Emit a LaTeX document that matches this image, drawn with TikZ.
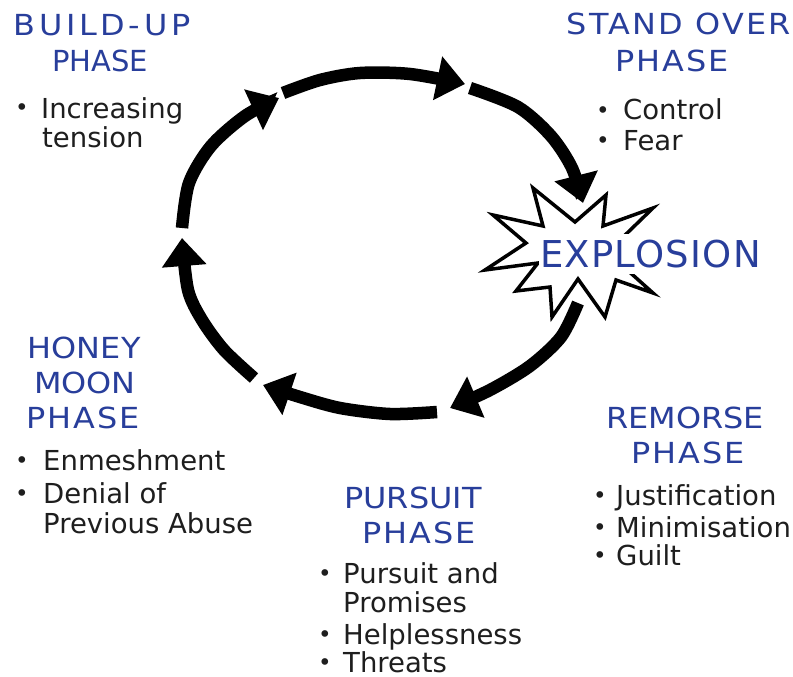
\documentclass[tikz,border=0pt]{standalone}
\usepackage{fontspec}
\setmainfont{DejaVu Sans}
\usetikzlibrary{arrows.meta}
\definecolor{titleblue}{RGB}{40,62,155}
\definecolor{bodygray}{RGB}{30,30,30}
\newcommand{\trk}[3]{\scalebox{#1}[1]{\addfontfeature{LetterSpace=#2}#3}}
\tikzset{
  title/.style={text=titleblue, font=\fontsize{29}{35}\selectfont, inner sep=0pt, anchor=base},
  body/.style={text=bodygray, font=\fontsize{27.5}{30}\selectfont, inner sep=0pt, anchor=base west},
  bul/.style={text=bodygray, font=\fontsize{23}{30}\selectfont, inner sep=0pt, anchor=base},
  cyclearc/.style={line width=12.5pt, -{Triangle[width=43pt,length=28pt]}},
  burst/.style={line width=3.5pt, draw=black, fill=white, line join=miter},
  explo/.style={text=titleblue, font=\fontsize{37}{40}\selectfont, fill=white, inner xsep=1pt, inner ysep=6pt, anchor=base west}
}
\begin{document}
\begin{tikzpicture}[x=1pt,y=-1pt]
\path[use as bounding box, fill=white] (0,0) rectangle (793,677);

% explosion star
\draw[burst] (493,215) -- (543,226) -- (533,188) -- (575,222) -- (606,195) -- (603,226)
  -- (653,208) -- (620,240) -- (625,268) -- (653,293) -- (616,280) -- (605,317)
  -- (578,279) -- (552,317) -- (550,287) -- (516,291) -- (538,263) -- (485,270)
  -- (526,243) -- cycle;
\node[explo] (ex) at (539,267) {\trk{1}{3.4}{EXPLOSION}};

% arc end points
\coordinate (s1) at (182,228); \coordinate (e1) at (279,98);
\coordinate (s2) at (283,93);  \coordinate (e2) at (465,84);
\coordinate (s3) at (470,88);  \coordinate (e3) at (583,203);
\coordinate (s4) at (578,303); \coordinate (e4) at (450,408);
\coordinate (s5) at (437,412); \coordinate (e5) at (263,385);
\coordinate (s6) at (254,378); \coordinate (e6) at (182,238);

\draw[cyclearc] plot[smooth] coordinates {(s1) (189,183) (211,146) (245,116) (e1)};
\draw[cyclearc] plot[smooth] coordinates {(s2) (320,80) (360,73) (410,74) (e2)};
\draw[cyclearc] plot[smooth] coordinates {(s3) (518,107) (551,136) (572,168) (e3)};
\draw[cyclearc] plot[smooth] coordinates {(s4) (561,337) (530,366) (490,390) (e4)};
\draw[cyclearc] plot[smooth] coordinates {(s5) (390,414) (340,408) (300,397) (e5)};
\draw[cyclearc] plot[smooth] coordinates {(s6) (224,350) (202,320) (188,290) (e6)};

% BUILD-UP
\node[title] (bu1) at (102,36) {\trk{1.1}{11.5}{BUILD-UP}};
\node[title] (bu2) at (100,71) {\trk{1}{0}{PHASE}};
\node[bul] (bub1) at (22,116) {•};
\node[body] (but1) at (41,118) {Increasing};
\node[body] (but2) at (42,147) {tension};

% STAND OVER
\node[title] (so1) at (679,35) {\trk{1.1}{7}{STAND OVER}};
\node[title] (so2) at (672,72) {\trk{1.1}{5.6}{PHASE}};
\node[bul] (sob1) at (603,118) {•};
\node[body] (sot1) at (623,120) {Control};
\node[bul] (sob2) at (603,148) {•};
\node[body] (sot2) at (623,150) {Fear};

% HONEY MOON
\node[title] (hm1) at (84,358) {\trk{1.1}{1}{HONEY}};
\node[title] (hm2) at (85,393) {\trk{1.1}{0}{MOON}};
\node[title] (hm3) at (83,428) {\trk{1.1}{5.6}{PHASE}};
\node[bul] (hmb1) at (22,468) {•};
\node[body] (hmt1) at (43,470) {Enmeshment};
\node[bul] (hmb2) at (22,501) {•};
\node[body] (hmt2) at (43,503) {Denial of};
\node[body] (hmt3) at (43,533) {Previous Abuse};

% REMORSE
\node[title] (re1) at (685,428) {\trk{1.1}{0}{REMORSE}};
\node[title] (re2) at (688,463) {\trk{1.1}{5.6}{PHASE}};
\node[bul] (reb1) at (600,503) {•};
\node[body] (ret1) at (616,505) {Justification};
\node[bul] (reb2) at (600,535) {•};
\node[body] (ret2) at (616,537) {Minimisation};
\node[bul] (reb3) at (600,563) {•};
\node[body] (ret3) at (616,565) {Guilt};

% PURSUIT
\node[title] (pu1) at (413,508) {\trk{1.1}{0}{PURSUIT}};
\node[title] (pu2) at (419,543) {\trk{1.1}{5.6}{PHASE}};
\node[bul] (pub1) at (325,581) {•};
\node[body] (put1) at (343,583) {Pursuit and};
\node[body] (put2) at (343,612) {Promises};
\node[bul] (pub2) at (325,642) {•};
\node[body] (put3) at (343,644) {Helplessness};
\node[bul] (pub3) at (325,670) {•};
\node[body] (put4) at (343,672) {Threats};
\end{tikzpicture}
\end{document}
